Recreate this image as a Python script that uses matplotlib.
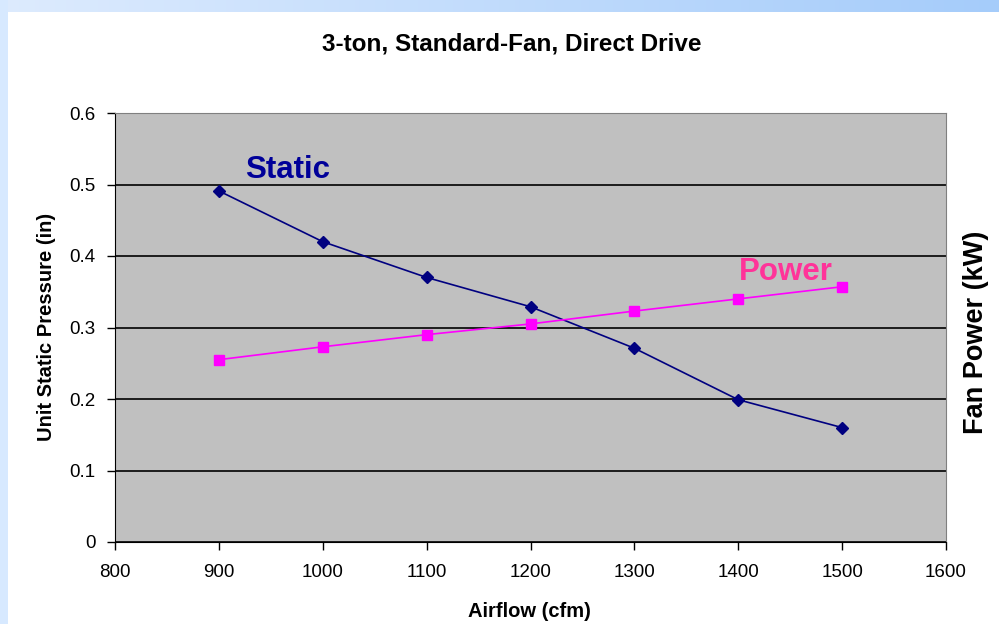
import numpy as np
import matplotlib
matplotlib.use('Agg')
import matplotlib.pyplot as plt
from matplotlib.patches import Rectangle

plt.rcParams['font.family'] = ['Liberation Sans', 'DejaVu Sans']

# Данные
airflow = [900, 1000, 1100, 1200, 1300, 1400, 1500]
static_pressure = [0.491, 0.42, 0.37, 0.329, 0.271, 0.199, 0.16]
fan_power = [0.255, 0.273, 0.29, 0.305, 0.323, 0.34, 0.357]

x_ticks = [800, 900, 1000, 1100, 1200, 1300, 1400, 1500, 1600]
y_ticks = [0, 0.1, 0.2, 0.3, 0.4, 0.5, 0.6]
y_tick_labels = ['0', '0.1', '0.2', '0.3', '0.4', '0.5', '0.6']

fig = plt.figure(figsize=(9.99, 6.24), dpi=100)
fig.patch.set_facecolor('white')

# светло-голубая рамка
fig.patches.append(Rectangle((0, 0), 8 / 999, 1, transform=fig.transFigure,
                             facecolor='#D7E9FF', edgecolor='none', zorder=0))
top = fig.add_axes([0, 1 - 12 / 624, 1, 12 / 624])
grad = np.linspace(0, 1, 256).reshape(1, -1)
cmap = matplotlib.colors.LinearSegmentedColormap.from_list('top', ['#DDEBFE', '#A5CCFA'])
top.imshow(grad, aspect='auto', cmap=cmap)
top.axis('off')

ax = fig.add_axes([115 / 999, 1 - 542 / 624, 831 / 999, 429 / 624])
ax.set_facecolor('#C0C0C0')
ax.set_xlim(800, 1600)
ax.set_ylim(0, 0.6)
ax.set_xticks(x_ticks)
ax.set_yticks(y_ticks)
ax.set_yticklabels(y_tick_labels)
ax.tick_params(axis='both', direction='out', length=6, width=1, labelsize=13.5, color='black')
ax.tick_params(axis='x', pad=10)
ax.tick_params(axis='y', pad=8)
ax.grid(axis='y', color='black', linewidth=1.2)
ax.set_axisbelow(True)
for side in ['top', 'right']:
    ax.spines[side].set_color('#808080')
for side in ['left', 'bottom']:
    ax.spines[side].set_color('black')

ax.plot(airflow, static_pressure, color='#000080', marker='D', markersize=6.5,
        linewidth=1.2, zorder=3)

ax2 = ax.twinx()
ax2.set_ylim(0, 0.6)
ax2.set_yticks([])
for s in ax2.spines.values():
    s.set_visible(False)
ax2.plot(airflow, fan_power, color='#FF00FF', marker='s', markersize=6.5,
         linewidth=1.2, zorder=3)

ax.text(925, 0.52, 'Static', color='#000099', fontsize=22.5, fontweight='bold',
        ha='left', va='center', zorder=4)
ax2.text(1401, 0.378, 'Power', color='#FF3399', fontsize=22.5, fontweight='bold',
         ha='left', va='center', zorder=4)

fig.text(511.5 / 999, 1 - 44 / 624, '3-ton, Standard-Fan, Direct Drive', fontsize=17.5,
         fontweight='bold', ha='center', va='center')
ax.set_xlabel('Airflow (cfm)', fontsize=14.5, fontweight='bold')
ax.xaxis.set_label_coords(0.499, -0.161)
ax.xaxis.label.set_va('center')
ax.set_ylabel('Unit Static Pressure (in)', fontsize=14.5, fontweight='bold')
ax.yaxis.set_label_coords(-0.083, 0.501)
ax.yaxis.label.set_va('center')
fig.text(976 / 999, 1 - 332 / 624, 'Fan Power (kW)', fontsize=19.5, fontweight='bold',
         rotation=90, ha='center', va='center')

fig.savefig('out.png', dpi=100)
